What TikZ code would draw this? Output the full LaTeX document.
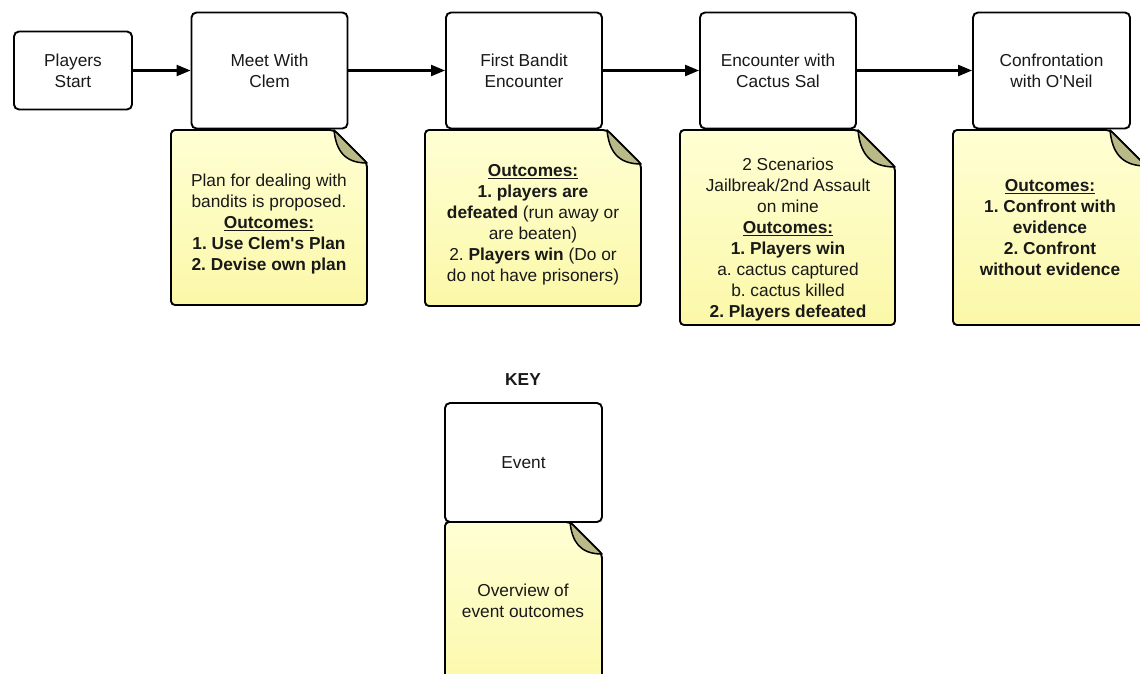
\documentclass[tikz,border=0pt]{standalone}
\usepackage{fontspec}
\setmainfont{Liberation Sans}
\usetikzlibrary{arrows.meta}
\definecolor{notetop}{RGB}{255,255,212}
\definecolor{notebot}{RGB}{251,248,168}
\definecolor{foldfill}{RGB}{186,186,136}
\definecolor{txt}{RGB}{25,25,25}
\newcommand\stickynote[5]{%
  \draw[notestyle] (#1,#2) -- (#3-#5,#2) -- (#3,#2+#5) -- (#3,#4) -- (#1,#4) -- cycle;
  \draw[foldstyle] (#3-#5,#2) .. controls (#3-#5+2,#2+0.6*#5) and (#3-0.7*#5,#2+#5) .. (#3,#2+#5) -- cycle;
}
\frenchspacing
\begin{document}
\begin{tikzpicture}[x=1pt,y=-1pt,
  font=\fontsize{17.3}{21}\selectfont,
  eventbox/.style={draw, line width=1.9pt, rounded corners=5pt, fill=white, align=center, text=txt, inner sep=2pt},
  notestyle/.style={draw, line width=1.9pt, rounded corners=4pt, top color=notetop, bottom color=notebot},
  foldstyle/.style={draw, line width=1.5pt, fill=foldfill, line join=round},
  notetext/.style={align=center, text=txt, inner sep=0pt},
  flow/.style={line width=2.2pt, -{Triangle[length=14pt,width=11pt]}}]
\useasboundingbox (0,0) rectangle (1140,673);
\begin{scope}
\clip (0,0) rectangle (1140,673);
% event boxes
\node[eventbox, minimum width=118pt, minimum height=78pt] (ps) at (73,70.5) {Players\\Start};
\node[eventbox, minimum width=156pt, minimum height=116pt] (clem) at (269.5,70.5) {Meet With\\Clem};
\node[eventbox, minimum width=156pt, minimum height=116pt] (bandit) at (524,70.5) {First Bandit\\Encounter};
\node[eventbox, minimum width=156pt, minimum height=116pt] (cactus) at (778,70.5) {Encounter with\\Cactus Sal};
\node[eventbox, minimum width=157pt, minimum height=116pt] (oneil) at (1051.5,70.5) {Confrontation\\with O\textquotesingle Neil};
% flow arrows
\draw[flow] (ps) -- (clem);
\draw[flow] (clem) -- (bandit);
\draw[flow] (bandit) -- (cactus);
\draw[flow] (cactus) -- (oneil);
% notes
\stickynote{171}{130}{367}{305}{33}
\stickynote{425}{130}{641}{306}{34}
\stickynote{680}{130}{895}{325}{37}
\stickynote{953}{130}{1146}{325}{36}
\node[notetext] (n1) at (269,224) {Plan for dealing with\\bandits is proposed.\\\textbf{\underline{Outcomes:}}\\\textbf{1. Use Clem\textquotesingle s Plan}\\\textbf{2. Devise own plan}};
\node[notetext] (n2) at (533,225) {\textbf{\underline{Outcomes:}}\\\textbf{1. players are}\\\textbf{defeated} (run away or\\are beaten)\\2. \textbf{Players win} (Do or\\do not have prisoners)};
\node[notetext] (n3) at (788,240) {2 Scenarios\\Jailbreak/2nd Assault\\on mine\\\textbf{\underline{Outcomes:}}\\\textbf{1. Players win}\\a. cactus captured\\b. cactus killed\\\textbf{2. Players defeated}};
\node[notetext] (n4) at (1050,228) {\textbf{\underline{Outcomes:}}\\\textbf{1. Confront with}\\\textbf{evidence}\\\textbf{2. Confront}\\\textbf{without evidence}};
% key
\node[notetext] (key) at (523,380) {\textbf{KEY}};
\node[eventbox, minimum width=157pt, minimum height=119pt] (event) at (523.5,462.5) {Event};
\stickynote{445}{522}{602}{700}{32}
\node[notetext] (kn) at (523,601) {Overview of\\event outcomes};
\end{scope}
\end{tikzpicture}
\end{document}
